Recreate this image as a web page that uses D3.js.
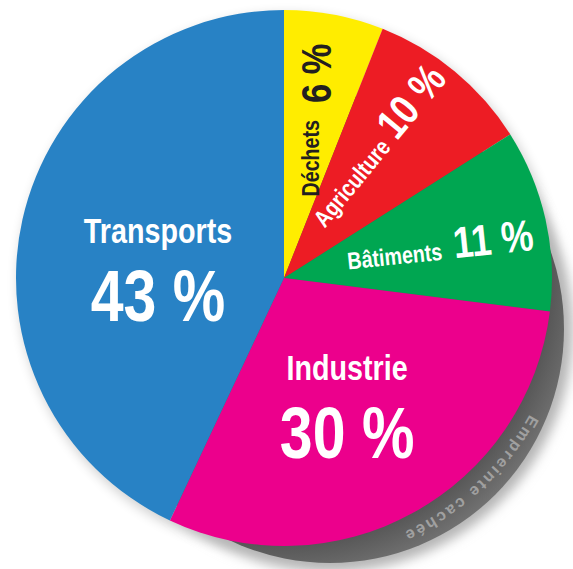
<!DOCTYPE html>
<html>
<head>
<meta charset="utf-8">
<script src="https://cdn.jsdelivr.net/npm/d3@7"></script>
<style>
  body { margin: 0; background: #fff; }
  text { font-family: "Liberation Sans", Arial, sans-serif; font-weight: bold; }
</style>
</head>
<body>
<div id="main"></div>
<script>
/* Data */
const categories = ["Déchets", "Agriculture", "Bâtiments", "Industrie", "Transports"];
const values = [6, 10, 11, 30, 43];
const pctLabels = ["6 %", "10 %", "11 %", "30 %", "43 %"];
const shadowLabel = "Empreinte cachée";

/* Styles */
const colors = ["#ffed00", "#ed1c24", "#00a651", "#ec008c", "#2882c5"];
const textColors = ["#231f20", "#fff", "#fff", "#fff", "#fff"];
const narrow = 0.82; // squeeze Liberation Sans into a condensed look

// where each label sits: radius, angle offset from slice middle (deg), rotation, layout kind
const labelPos = [
  {r: 172, da: 3, rot: -90, kind: "inline", gapL: 9, gapP: 8, yL: -6, yP: 6, fsL: 24, fsP: 42},
  {r: 173, da: 0, rot: -50.4, kind: "inline", gapL: 4, gapP: 4, yL: 0, yP: 0, fsL: 24, fsP: 43},
  {r: 166, da: 6, rot: -6, kind: "inline", gapL: 6, gapP: 6, yL: 0, yP: 0, fsL: 24, fsP: 44},
  {r: 151, da: 4.1, rot: 0, kind: "stack", yL: -35, yP: 43, fsL: 35, fsP: 72},
  {r: 126, da: -12.6, rot: 0, kind: "stack", yL: -35, yP: 43, fsL: 35, fsP: 72}
];

/* Size */
const width = 573, height = 569;
const cx = 284, cy = 278, radius = 268;

const svg = d3.select("#main").append("svg")
  .attr("width", width).attr("height", height);

const defs = svg.append("defs");
defs.append("filter").attr("id", "blur").attr("x", "-20%").attr("y", "-20%")
  .attr("width", "140%").attr("height", "140%")
  .append("feGaussianBlur").attr("stdDeviation", 6);

const grey = defs.append("radialGradient").attr("id", "greyGrad")
  .attr("gradientUnits", "userSpaceOnUse")
  .attr("cx", cx).attr("cy", cy).attr("r", 305);
grey.append("stop").attr("offset", "0.88").attr("stop-color", "#585858");
grey.append("stop").attr("offset", "1").attr("stop-color", "#737373");

/* Shadow "hidden footprint" */
const back = svg.append("g");
back.append("circle")
  .attr("cx", cx + 3).attr("cy", cy + 5).attr("r", radius + 1)
  .attr("fill", "#000").attr("opacity", 0.18)
  .attr("filter", "url(#blur)");
back.append("circle")
  .attr("cx", cx + 46).attr("cy", cy + 51).attr("r", 243)
  .attr("fill", "#b5b5b5")
  .attr("filter", "url(#blur)");
back.append("circle")
  .attr("cx", cx + 46).attr("cy", cy + 51).attr("r", 234)
  .attr("fill", "url(#greyGrad)");

/* Pie */
const pie = d3.pie().value(d => d).sort(null);
const arcs = pie(values);
const arc = d3.arc().innerRadius(0).outerRadius(radius);

const mainG = svg.append("g").attr("transform", `translate(${cx},${cy})`);

mainG.selectAll("path.slice")
  .data(arcs)
  .enter().append("path")
  .attr("class", "slice")
  .attr("d", arc)
  .attr("fill", (d, i) => colors[i]);

/* Text on the shadow ring */
const tr = 281;
const a0 = 29 * Math.PI / 180, a1 = 88 * Math.PI / 180;
defs.append("path").attr("id", "ringPath")
  .attr("d", `M${tr * Math.cos(a0)},${tr * Math.sin(a0)} A${tr},${tr} 0 0 1 ${tr * Math.cos(a1)},${tr * Math.sin(a1)}`);
mainG.append("text")
  .style("font-size", "16px")
  .style("letter-spacing", "2.5px")
  .attr("fill", "#a0a0a0")
  .append("textPath")
  .attr("href", "#ringPath")
  .text(shadowLabel);

/* Labels */
const labels = mainG.selectAll("g.label")
  .data(arcs)
  .enter().append("g")
  .attr("class", "label")
  .attr("transform", (d, i) => {
    const p = labelPos[i];
    const a = (d.startAngle + d.endAngle) / 2 + p.da * Math.PI / 180;
    return `translate(${p.r * Math.sin(a)},${-p.r * Math.cos(a)}) rotate(${p.rot})`;
  });

labels.append("text")
  .attr("transform", (d, i) => {
    const p = labelPos[i];
    return `translate(${p.kind === "inline" ? -p.gapL : 0},${p.yL}) scale(${narrow},1)`;
  })
  .attr("text-anchor", (d, i) => labelPos[i].kind === "inline" ? "end" : "middle")
  .style("font-size", (d, i) => labelPos[i].fsL + "px")
  .attr("fill", (d, i) => textColors[i])
  .text((d, i) => categories[i]);

labels.append("text")
  .attr("transform", (d, i) => {
    const p = labelPos[i];
    return `translate(${p.kind === "inline" ? p.gapP : 0},${p.yP}) scale(${narrow},1)`;
  })
  .attr("text-anchor", (d, i) => labelPos[i].kind === "inline" ? "start" : "middle")
  .style("font-size", (d, i) => labelPos[i].fsP + "px")
  .attr("fill", (d, i) => textColors[i])
  .text((d, i) => pctLabels[i]);
</script>
</body>
</html>
